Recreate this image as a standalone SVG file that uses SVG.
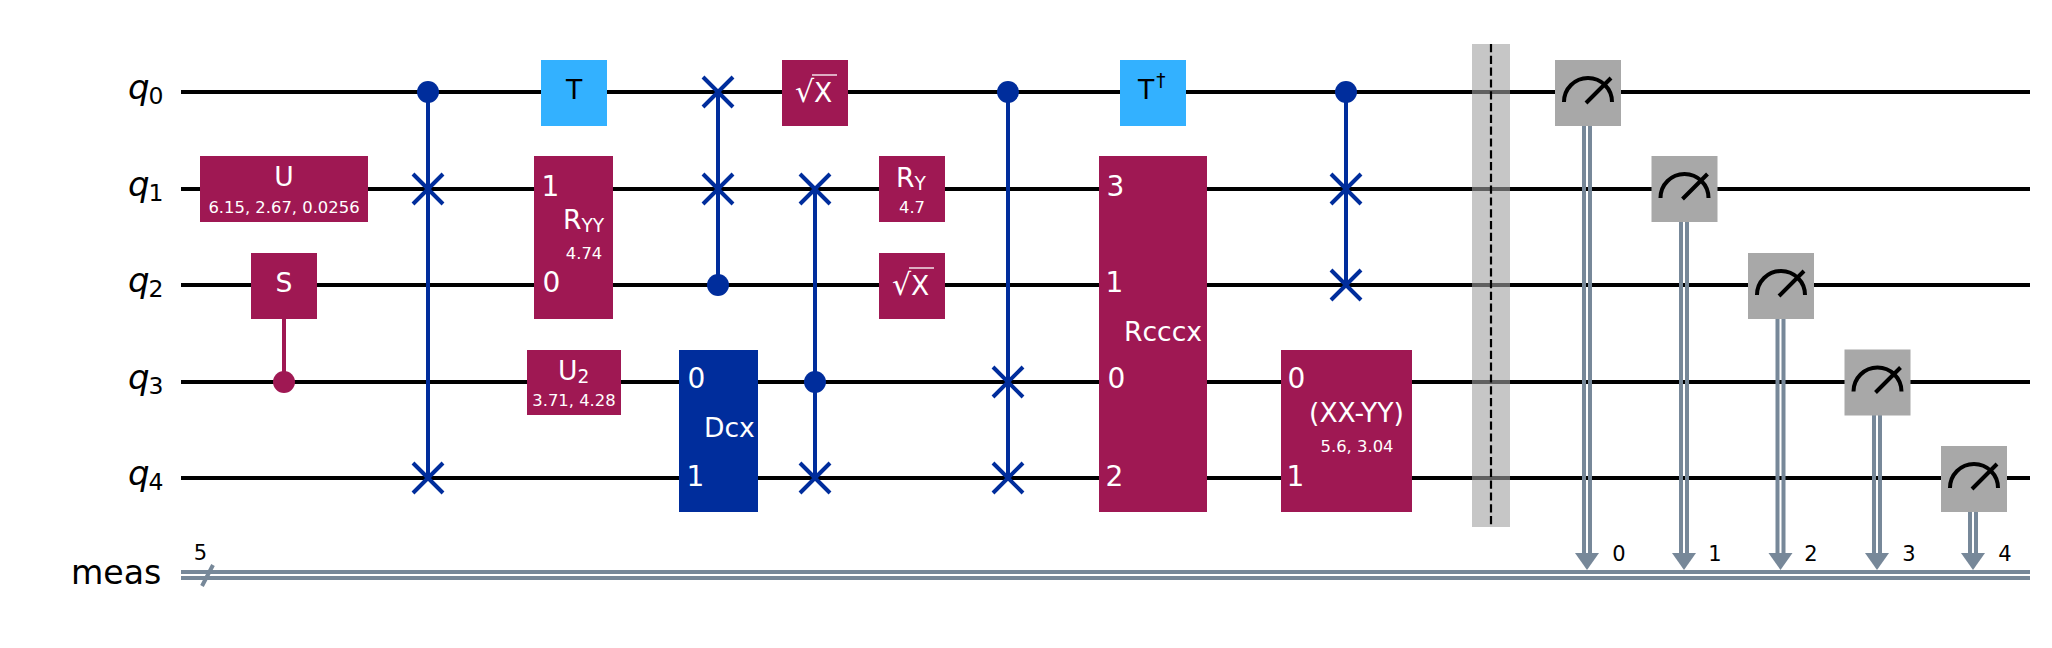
<svg xmlns="http://www.w3.org/2000/svg" width="2052" height="648" viewBox="0 0 2052 648">
<style>
text{font-family:"DejaVu Sans",sans-serif;fill:#fff}
.reg{font-size:33.2px;fill:#000}
.regi{font-size:34px;font-style:italic;fill:#000}
.sub{font-size:23.5px}
.g{font-size:26.6px}
.i{font-size:28px}
.gs{font-size:18.6px}
.p{font-size:16.4px;text-anchor:middle}
.m{text-anchor:middle}
.n{font-size:21px;fill:#000;text-anchor:middle}
.k{fill:#000}
.r{font-size:30px}
.w{stroke:#000;stroke-width:4;fill:none}
.c{stroke:#778899;stroke-width:4;fill:none}
.b{stroke:#002d9c;stroke-width:4;fill:none}
.pl{stroke:#9f1853;stroke-width:4;fill:none}
.pu{fill:#9f1853}.bl{fill:#002d9c}.cy{fill:#33b1ff}.gr{fill:#a8a8a8}
.dot{fill:#002d9c}
.mm{stroke:#000;stroke-width:4;fill:none}
.a{fill:#778899}
.ov{stroke:#fff;stroke-width:1.300}
</style>
<defs>
<path id="sw" class="b" d="M-15-15L15 15M-15 15L15-15"/>
<g id="meter"><rect class="gr" x="-33" y="-33" width="66" height="66"/><path class="mm" d="M-24 9A24 24 0 0 1 24 9M-2 10L23-15"/></g>
</defs>
<rect width="2052" height="648" fill="#fff"/>
<g id="connectors">
<path class="w" d="M181 92H2030M181 189H2030M181 285H2030M181 382H2030M181 478H2030"/>
<path class="c" d="M181 572H2030M181 578H2030M202 586L213 565"/>
<path class="pl" d="M284 319V382"/>
<path class="b" d="M428 92V478M718 92V285M815 189V478M1008 92V478M1346 92V285"/>
<path class="c" d="M1584 126V555M1590 126V555M1681 222V555M1687 222V555M1777.500 319V555M1783.500 319V555M1874 415V555M1880 415V555M1970 512V555M1976 512V555"/>
<polygon class="a" points="1575,553 1599,553 1587,570"/>
<polygon class="a" points="1672,553 1696,553 1684,570"/>
<polygon class="a" points="1768.500,553 1792.500,553 1780.500,570"/>
<polygon class="a" points="1865,553 1889,553 1877,570"/>
<polygon class="a" points="1961,553 1985,553 1973,570"/>
</g>
<g id="registers">
<text class="regi" x="128" y="99">q<tspan class="sub" font-style="normal" x="148.500" dy="5">0</tspan></text>
<text class="regi" x="128" y="196">q<tspan class="sub" font-style="normal" x="148.500" dy="5">1</tspan></text>
<text class="regi" x="128" y="292">q<tspan class="sub" font-style="normal" x="148.500" dy="5">2</tspan></text>
<text class="regi" x="128" y="389">q<tspan class="sub" font-style="normal" x="148.500" dy="5">3</tspan></text>
<text class="regi" x="128" y="485">q<tspan class="sub" font-style="normal" x="148.500" dy="5">4</tspan></text>
<text class="reg" x="71" y="584">meas</text>
<text class="n" x="200.500" y="560">5</text>
</g>
<g id="gate-u"><rect class="pu" x="200" y="156" width="168" height="66"/><text class="g m" x="284" y="186">U</text><text class="p" x="284" y="213">6.15, 2.67, 0.0256</text></g>
<g id="gate-s"><rect class="pu" x="251" y="253" width="66" height="66"/><text class="g m" x="284" y="292">S</text></g>
<g id="ctrl-s"><circle class="pu" cx="284" cy="382" r="11"/></g>
<g id="swap-1"><circle class="dot" cx="428" cy="92" r="11"/><use href="#sw" x="428" y="189"/><use href="#sw" x="428" y="478"/></g>
<g id="gate-t"><rect class="cy" x="541" y="60" width="66" height="66"/><text class="g m k" x="574" y="99">T</text></g>
<g id="gate-ryy"><rect class="pu" x="534" y="156" width="79" height="163"/><text class="i" x="541.500" y="196">1</text><text class="i" x="542.500" y="292">0</text><text class="g" x="563" y="229">R<tspan class="gs" dy="3">YY</tspan></text><text class="p" x="584" y="259">4.74</text></g>
<g id="gate-u2"><rect class="pu" x="527" y="350" width="94" height="65"/><text class="g" x="558" y="380">U<tspan class="gs" dy="3">2</tspan></text><text class="p" x="574" y="406">3.71, 4.28</text></g>
<g id="swap-2"><use href="#sw" x="718" y="92"/><use href="#sw" x="718" y="189"/><circle class="dot" cx="718" cy="285" r="11"/></g>
<g id="gate-dcx"><rect class="bl" x="679" y="350" width="79" height="162"/><text class="i" x="687.500" y="388">0</text><text class="i" x="686.500" y="486">1</text><text class="g" x="704" y="437">Dcx</text></g>
<g id="gate-sx0"><rect class="pu" x="782" y="60" width="66" height="66"/><text class="g" x="795" y="102"><tspan class="r">√</tspan><tspan x="814">X</tspan></text><path class="ov" d="M812 75H837"/></g>
<g id="swap-3"><use href="#sw" x="815" y="189"/><circle class="dot" cx="815" cy="382" r="11"/><use href="#sw" x="815" y="478"/></g>
<g id="gate-ry"><rect class="pu" x="879" y="156" width="66" height="66"/><text class="g" x="896" y="187">R<tspan class="gs" dy="3">Y</tspan></text><text class="p" x="912" y="213">4.7</text></g>
<g id="gate-sx2"><rect class="pu" x="879" y="253" width="66" height="66"/><text class="g" x="892" y="295"><tspan class="r">√</tspan><tspan x="911">X</tspan></text><path class="ov" d="M909 268H934"/></g>
<g id="swap-4"><circle class="dot" cx="1008" cy="92" r="11"/><use href="#sw" x="1008" y="382"/><use href="#sw" x="1008" y="478"/></g>
<g id="gate-tdg"><rect class="cy" x="1120" y="60" width="66" height="66"/><text class="g k" x="1138" y="99">T<tspan class="gs k" dx="2" dy="-12">†</tspan></text></g>
<g id="gate-rcccx"><rect class="pu" x="1099" y="156" width="108" height="356"/><text class="i" x="1106.500" y="196">3</text><text class="i" x="1105.500" y="292">1</text><text class="i" x="1107.500" y="388">0</text><text class="i" x="1105.500" y="486">2</text><text class="g" x="1124" y="341">Rcccx</text></g>
<g id="swap-5"><circle class="dot" cx="1346" cy="92" r="11"/><use href="#sw" x="1346" y="189"/><use href="#sw" x="1346" y="285"/></g>
<g id="gate-xxyy"><rect class="pu" x="1281" y="350" width="131" height="162"/><text class="i" x="1287.500" y="388">0</text><text class="i" x="1286.500" y="486">1</text><text class="g" x="1309" y="422">(XX-YY)</text><text class="p" x="1357" y="452">5.6, 3.04</text></g>
<g id="barrier"><rect x="1472" y="44" width="38" height="483" fill="#a0a0a0" fill-opacity=".6"/><path d="M1491 44V527" stroke="#000" stroke-width="2.200" stroke-dasharray="8.200 3.600" fill="none"/></g>
<use id="meas-0" href="#meter" x="1588" y="93"/>
<use id="meas-1" href="#meter" x="1684.500" y="189"/>
<use id="meas-2" href="#meter" x="1781" y="286"/>
<use id="meas-3" href="#meter" x="1877.500" y="382.500"/>
<use id="meas-4" href="#meter" x="1974" y="479"/>
<g id="bits">
<text class="n" x="1619" y="561">0</text><text class="n" x="1715" y="561">1</text><text class="n" x="1811" y="561">2</text><text class="n" x="1909" y="561">3</text><text class="n" x="2005" y="561">4</text>
</g>
</svg>
